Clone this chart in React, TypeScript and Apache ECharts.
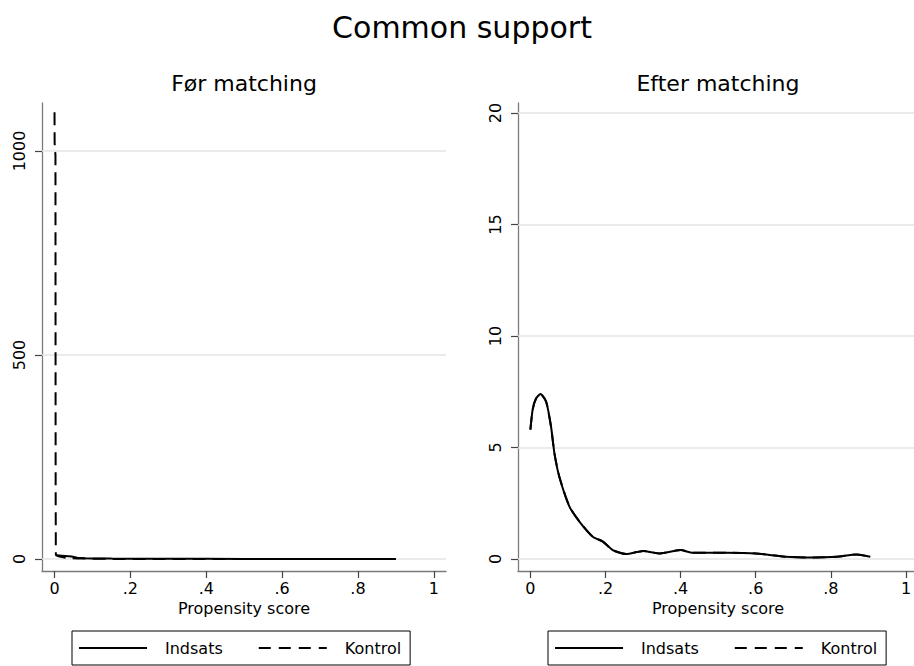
import React, { useEffect, useRef } from 'react';
import * as echarts from 'echarts';

// Tick values / labels
const X_TICKS = [0, 0.2, 0.4, 0.6, 0.8, 1];
const LEFT_Y_TICKS = [0, 500, 1000];
const RIGHT_Y_TICKS = [0, 5, 10, 15, 20];
const LEGEND_NAMES = ['Indsats', 'Kontrol'];
const TITLE = 'Common support';
const PANEL_TITLES = ['Før matching', 'Efter matching'];
const X_NAME = 'Propensity score';

// Før matching (before)
const beforeIndsatsX = [0.003, 0.02, 0.045, 0.06, 0.08, 0.1, 0.15, 0.2, 0.3, 0.4, 0.5, 0.6, 0.7, 0.8, 0.9];
const beforeIndsatsY = [9, 8, 6, 3, 2, 1.5, 1, 0.8, 0.5, 0.4, 0.3, 0.3, 0.2, 0.2, 0.2];
const beforeKontrolX = [0, 0.0003, 0.0015, 0.0025, 0.0028, 0.003, 0.0035, 0.01, 0.03, 0.06, 0.1, 0.2, 0.4, 0.6, 0.9];
const beforeKontrolY = [1095, 1020, 1000, 990, 400, 170, 10, 7, 3, 1.5, 0.5, 0.1, 0.05, 0.02, 0.01];

// Efter matching (after)
const afterIndsatsX = [0.0, 0.006, 0.015, 0.027, 0.042, 0.055, 0.064, 0.077, 0.104, 0.131, 0.166, 0.193, 0.219, 0.255, 0.3, 0.344, 0.4, 0.432, 0.52, 0.6, 0.68, 0.744, 0.815, 0.868, 0.905];
const afterIndsatsY = [5.8, 6.7, 7.2, 7.4, 7.05, 5.93, 4.74, 3.69, 2.35, 1.67, 1.0, 0.78, 0.4, 0.22, 0.36, 0.25, 0.4, 0.28, 0.28, 0.25, 0.1, 0.07, 0.1, 0.2, 0.1];
const afterKontrolX = [0.0, 0.006, 0.015, 0.027, 0.042, 0.055, 0.064, 0.077, 0.104, 0.131, 0.166, 0.193, 0.219, 0.255, 0.3, 0.344, 0.4, 0.432, 0.52, 0.6, 0.68, 0.744, 0.815, 0.868, 0.905];
const afterKontrolY = [5.8, 6.7, 7.2, 7.4, 7.05, 5.93, 4.74, 3.69, 2.35, 1.67, 1.0, 0.78, 0.4, 0.22, 0.36, 0.25, 0.4, 0.28, 0.28, 0.25, 0.1, 0.07, 0.1, 0.2, 0.1];

const zip = (xs: number[], ys: number[]) => xs.map((x, i) => [x, ys[i]]);

const FONT = "'DejaVu Sans', sans-serif";
const SOLID_ICON = 'path://M0,0h68v2h-68z';
const DASH_ICON = 'path://M0,0h12v2h-12z M20,0h12v2h-12z M40,0h12v2h-12z M60,0h8v2h-8z';

const fmtX = (v: number) => {
  if (v === 0) return '0';
  if (v === 1) return '1';
  return String(Math.round(v * 10) / 10).replace(/^0/, '');
};
const fmtY = (v: number) => String(v);

function makeXAxis(gridIndex: number) {
  return {
    type: 'value',
    gridIndex,
    min: -0.033,
    max: 1.032,
    axisLine: { show: true, onZero: false, lineStyle: { color: '#7a7a7a', width: 1.3 } },
    axisTick: { show: true, length: 7, customValues: X_TICKS, lineStyle: { color: '#444', width: 1.2 } },
    axisLabel: { customValues: X_TICKS, formatter: fmtX, margin: 9, fontSize: 16, color: '#000', fontFamily: FONT },
    splitLine: { show: false },
    name: X_NAME,
    nameLocation: 'middle',
    nameGap: 27,
    nameTextStyle: { fontSize: 16, color: '#000', fontFamily: FONT },
  };
}

function makeYAxis(gridIndex: number, ticks: number[], min: number, max: number) {
  return {
    type: 'value',
    gridIndex,
    min,
    max,
    axisLine: { show: true, onZero: false, lineStyle: { color: '#7a7a7a', width: 1.3 } },
    axisTick: { show: true, length: 7, customValues: ticks, lineStyle: { color: '#444', width: 1.2 } },
    axisLabel: { customValues: ticks, formatter: fmtY, rotate: 90, margin: 15, fontSize: 16, color: '#000', fontFamily: FONT },
    splitLine: { show: false },
  };
}

function gridSeries(idx: number, ticks: number[]) {
  return {
    name: 'grid' + idx,
    type: 'line',
    xAxisIndex: idx,
    yAxisIndex: idx,
    data: [],
    silent: true,
    z: 1,
    markLine: {
      silent: true,
      z: 1,
      symbol: ['none', 'none'],
      label: { show: false },
      lineStyle: { color: '#e4e4e4', width: 1.5, type: 'solid' },
      emphasis: { disabled: true },
      data: ticks.map((v) => ({ yAxis: v })),
    },
  };
}

function curve(name: string, idx: number, data: number[][], dashed: boolean, smooth: number | boolean) {
  return {
    name,
    type: 'line',
    xAxisIndex: idx,
    yAxisIndex: idx,
    data,
    symbol: 'none',
    smooth,
    z: dashed ? 3 : 4,
    lineStyle: { color: '#000', width: 2, type: dashed ? [13, 7] : 'solid' },
    itemStyle: { color: '#000' },
  };
}

function makeLegend(left: number) {
  return {
    left,
    top: 631,
    orient: 'horizontal',
    selectedMode: false,
    data: [
      { name: LEGEND_NAMES[0], icon: SOLID_ICON },
      { name: LEGEND_NAMES[1], icon: DASH_ICON },
    ],
    itemWidth: 68,
    itemHeight: 2,
    itemGap: 36,
    padding: [9, 9, 9, 7],
    borderColor: '#000',
    borderWidth: 1,
    borderRadius: 0,
    itemStyle: { color: '#000', borderWidth: 0 },
    textStyle: { fontSize: 16, color: '#000', fontFamily: FONT, padding: [0, 0, 0, 13] },
  };
}

export default function App() {
  const ref = useRef<HTMLDivElement>(null);
  useEffect(() => {
    if (!ref.current) return;
    const chart = echarts.init(ref.current, undefined, { renderer: 'svg' });
    chart.setOption({
      animation: false,
      backgroundColor: '#fff',
      textStyle: { fontFamily: FONT },
      title: [
        { text: TITLE, left: 462, textAlign: 'center', top: 12, padding: 0, textStyle: { fontSize: 30, fontWeight: 'normal', color: '#000', fontFamily: FONT } },
        { text: PANEL_TITLES[0], left: 244, textAlign: 'center', top: 72, padding: 0, textStyle: { fontSize: 22, fontWeight: 'normal', color: '#000', fontFamily: FONT } },
        { text: PANEL_TITLES[1], left: 718, textAlign: 'center', top: 72, padding: 0, textStyle: { fontSize: 22, fontWeight: 'normal', color: '#000', fontFamily: FONT } },
      ],
      grid: [
        { left: 42, right: 468, top: 103, bottom: 95, containLabel: false, outerBoundsMode: 'none' },
        { left: 518, right: -4, top: 103, bottom: 95, containLabel: false, outerBoundsMode: 'none' },
      ],
      xAxis: [makeXAxis(0), makeXAxis(1)],
      yAxis: [makeYAxis(0, LEFT_Y_TICKS, -29.4, 1117.6), makeYAxis(1, RIGHT_Y_TICKS, -0.538, 20.45)],
      legend: [makeLegend(72), makeLegend(548)],
      series: [
        gridSeries(0, LEFT_Y_TICKS),
        gridSeries(1, RIGHT_Y_TICKS),
        curve(LEGEND_NAMES[0], 0, zip(beforeIndsatsX, beforeIndsatsY), false, false),
        curve(LEGEND_NAMES[1], 0, zip(beforeKontrolX, beforeKontrolY), true, false),
        curve(LEGEND_NAMES[1], 1, zip(afterKontrolX, afterKontrolY), true, 0.2),
        curve(LEGEND_NAMES[0], 1, zip(afterIndsatsX, afterIndsatsY), false, 0.2),
      ],
    });
    return () => chart.dispose();
  }, []);
  return <div ref={ref} style={{ position: 'absolute', left: 0, top: 0, width: 914, height: 666 }} />;
}
